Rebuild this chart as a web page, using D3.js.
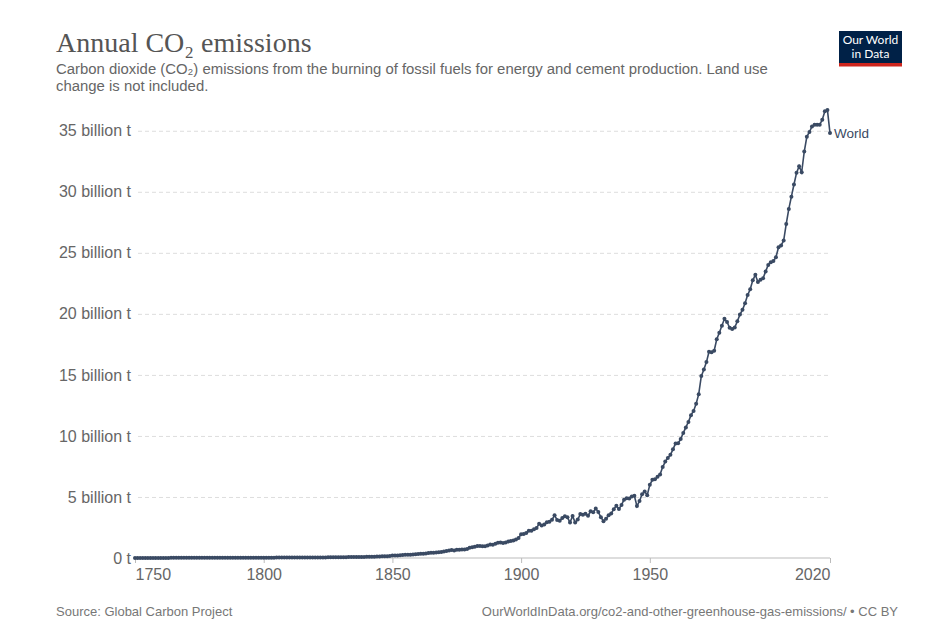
<!DOCTYPE html>
<html>
<head>
<meta charset="utf-8">
<script src="https://cdn.jsdelivr.net/npm/d3@7"></script>
<style>
  body { margin: 0; background: #fff; }
  text { font-family: "Liberation Sans", Arial, sans-serif; }
</style>
</head>
<body>
<div id="chart"></div>
<script>
// annual CO2 emissions, world, billion tonnes
const startYear = 1750;
const emissions = [
  // 1750s
  0.0094, 0.0094, 0.0094, 0.0094, 0.0094, 0.0094, 0.0102, 0.0102, 0.0102, 0.0102,
  // 1760s
  0.0102, 0.0102, 0.0102, 0.0102, 0.0110, 0.0110, 0.0110, 0.0110, 0.0110, 0.0118,
  // 1770s
  0.0118, 0.0118, 0.0125, 0.0125, 0.0125, 0.0125, 0.0125, 0.0133, 0.0133, 0.0133,
  // 1780s
  0.0133, 0.0141, 0.0141, 0.0148, 0.0148, 0.0152, 0.0158, 0.0165, 0.0170, 0.0174,
  // 1790s
  0.0180, 0.0185, 0.0194, 0.0201, 0.0205, 0.0210, 0.0216, 0.0220, 0.0227, 0.0235,
  // 1800s
  0.0278, 0.0285, 0.0292, 0.0296, 0.0304, 0.0311, 0.0315, 0.0322, 0.0330, 0.0337,
  // 1810s
  0.0345, 0.0352, 0.0359, 0.0367, 0.0374, 0.0385, 0.0389, 0.0414, 0.0422, 0.0433,
  // 1820s
  0.0440, 0.0455, 0.0472, 0.0484, 0.0505, 0.0535, 0.0550, 0.0575, 0.0600, 0.0625,
  // 1830s
  0.0670, 0.0695, 0.0715, 0.0735, 0.0760, 0.0790, 0.0820, 0.0860, 0.0880, 0.0910,
  // 1840s
  0.0950, 0.1010, 0.1050, 0.1100, 0.1150, 0.1240, 0.1340, 0.1460, 0.1470, 0.1570,
  // 1850s
  0.197, 0.198, 0.213, 0.222, 0.252, 0.258, 0.272, 0.276, 0.282, 0.306,
  // 1860s
  0.333, 0.351, 0.349, 0.374, 0.400, 0.426, 0.433, 0.457, 0.465, 0.495,
  // 1870s
  0.531, 0.572, 0.608, 0.652, 0.618, 0.671, 0.680, 0.697, 0.701, 0.732,
  // 1880s
  0.849, 0.874, 0.918, 0.982, 0.978, 0.961, 0.972, 1.016, 1.105, 1.091,
  // 1890s
  1.171, 1.243, 1.267, 1.235, 1.271, 1.344, 1.386, 1.440, 1.513, 1.635,
  // 1900s
  1.952, 1.971, 2.048, 2.236, 2.233, 2.355, 2.467, 2.805, 2.668, 2.746,
  // 1910s
  2.922, 2.970, 3.132, 3.500, 3.122, 3.047, 3.284, 3.419, 3.330, 2.900,
  // 1920s
  3.450, 2.900, 3.150, 3.600, 3.550, 3.620, 3.460, 3.830, 3.750, 4.050,
  // 1930s
  3.760, 3.340, 3.020, 3.210, 3.500, 3.650, 4.000, 4.280, 4.010, 4.350,
  // 1940s
  4.780, 4.900, 4.880, 5.030, 5.100, 4.250, 4.670, 5.220, 5.450, 5.150,
  // 1950s
  6.000, 6.400, 6.450, 6.650, 6.850, 7.450, 7.900, 8.200, 8.450, 8.900,
  // 1960s
  9.390, 9.400, 9.740, 10.250, 10.700, 11.150, 11.700, 12.050, 12.640, 13.420,
  // 1970s
  14.900, 15.440, 16.050, 16.900, 16.860, 16.980, 17.920, 18.450, 19.030, 19.600,
  // 1980s
  19.340, 18.860, 18.750, 18.880, 19.400, 19.940, 20.330, 20.870, 21.540, 22.010,
  // 1990s
  22.750, 23.200, 22.600, 22.800, 22.920, 23.480, 24.000, 24.220, 24.320, 24.640,
  // 2000s
  25.450, 25.610, 26.000, 27.370, 28.600, 29.600, 30.600, 31.550, 32.100, 31.600,
  // 2010s
  33.300, 34.500, 34.900, 35.350, 35.500, 35.500, 35.500, 35.900, 36.600, 36.700,
  // 2020
  34.810
];
const seriesName = "World";
const yTicks = [0, 5, 10, 15, 20, 25, 30, 35];
const xTicks = [1750, 1800, 1850, 1900, 1950, 2020];

const title = "Annual CO\u2082 emissions";
const subtitle = [
  "Carbon dioxide (CO\u2082) emissions from the burning of fossil fuels for energy and cement production. Land use",
  "change is not included."
];
const sourceNote = "Source: Global Carbon Project";
const urlNote = "OurWorldInData.org/co2-and-other-greenhouse-gas-emissions/ \u2022 CC BY";

const data = emissions.map((v, i) => ({ year: startYear + i, value: v }));

const width = 930, height = 625;
const svg = d3.select("#chart").append("svg")
  .attr("width", width)
  .attr("height", height);

// plot area
const plotLeft = 135, plotRight = 830, plotTop = 110, plotBottom = 558;

const x = d3.scaleLinear()
  .domain([1750, 2020])
  .range([plotLeft, plotRight]);

const y = d3.scaleLinear()
  .domain([0, d3.max(emissions)])
  .range([plotBottom, plotTop]);

// header
svg.append("text")
  .attr("x", 56).attr("y", 52)
  .style("font-family", "'Liberation Serif', 'DejaVu Serif', serif")
  .style("font-size", "28px")
  .attr("fill", "#555")
  .text(title);

svg.selectAll(".subtitle")
  .data(subtitle)
  .enter().append("text")
  .attr("class", "subtitle")
  .attr("x", 56)
  .attr("y", (d, i) => 74 + i * 17)
  .style("font-size", "14.9px")
  .attr("fill", "#666")
  .text(d => d);

// logo
const logo = svg.append("g").attr("transform", "translate(839,31)");
logo.append("rect").attr("width", 63).attr("height", 35).attr("fill", "#002147");
logo.append("rect").attr("y", 32).attr("width", 63).attr("height", 3.5).attr("fill", "#ce261e");
logo.selectAll("text")
  .data(["Our World", "in Data"])
  .enter().append("text")
  .attr("x", 31.5)
  .attr("y", (d, i) => 12.5 + i * 14.5)
  .attr("text-anchor", "middle")
  .style("font-family", "Lato, 'Open Sans', sans-serif")
  .style("font-size", "12px")
  .attr("fill", "#fff")
  .text(d => d);

// y grid + labels
const yAxis = d3.axisLeft(y)
  .tickValues(yTicks)
  .tickSize(-(plotRight - plotLeft))
  .tickPadding(4)
  .tickFormat(d => d === 0 ? "0 t" : d + " billion t");

const gy = svg.append("g")
  .attr("transform", `translate(${plotLeft},0)`)
  .call(yAxis);
gy.select(".domain").remove();
gy.selectAll(".tick line")
  .attr("stroke", "#ddd")
  .attr("stroke-dasharray", "4,3")
  .attr("x1", 3);
gy.selectAll(".tick").filter(d => d === 0).select("line").remove();
gy.selectAll(".tick text")
  .style("font-size", "16px")
  .style("font-family", "'Liberation Sans', Arial, sans-serif")
  .attr("fill", "#666");

// x axis
const xAxis = d3.axisBottom(x)
  .tickValues(xTicks)
  .tickSize(5)
  .tickPadding(6)
  .tickFormat(d3.format("d"));

const gx = svg.append("g")
  .attr("transform", `translate(0,${plotBottom})`)
  .call(xAxis);
gx.select(".domain").attr("stroke", "#bbb").attr("d", `M${plotLeft},0H${plotRight}`);
gx.selectAll(".tick line").attr("stroke", "#bbb");
gx.selectAll(".tick text")
  .style("font-size", "16px")
  .style("font-family", "'Liberation Sans', Arial, sans-serif")
  .attr("fill", "#666")
  .attr("text-anchor", d => d === 1750 ? "start" : d === 2020 ? "end" : "middle");

// line + points
const lineColor = "#3a4a63";
const line = d3.line()
  .x(d => x(d.year))
  .y(d => y(d.value));

svg.append("path")
  .datum(data)
  .attr("fill", "none")
  .attr("stroke", lineColor)
  .attr("stroke-width", 1.6)
  .attr("d", line);

svg.append("g")
  .selectAll("circle")
  .data(data)
  .enter().append("circle")
  .attr("cx", d => x(d.year))
  .attr("cy", d => y(d.value))
  .attr("r", 2)
  .attr("fill", lineColor);

const last = data[data.length - 1];
svg.append("text")
  .attr("x", x(last.year) + 4)
  .attr("y", y(last.value) + 5)
  .style("font-size", "13.5px")
  .attr("fill", lineColor)
  .text(seriesName);

// footer
svg.append("text")
  .attr("x", 56).attr("y", 616)
  .style("font-size", "13px")
  .attr("fill", "#777")
  .text(sourceNote);

svg.append("text")
  .attr("x", 898).attr("y", 616)
  .attr("text-anchor", "end")
  .style("font-size", "13px")
  .attr("fill", "#777")
  .text(urlNote);
</script>
</body>
</html>
